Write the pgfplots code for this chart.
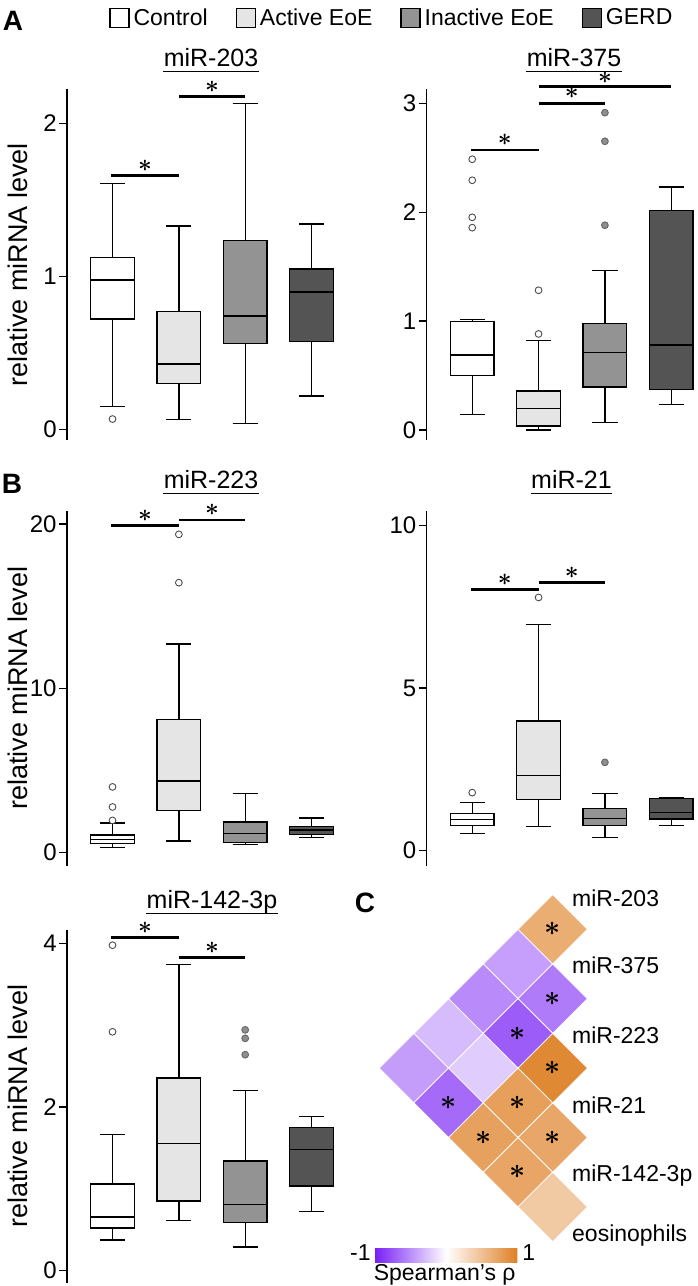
\documentclass[border=0pt]{standalone}
\usepackage{fontspec}
\setmainfont{Liberation Sans}
\usepackage{pgfplots}
\pgfplotsset{compat=1.18}
\usepgfplotslibrary{statistics}

\definecolor{act}{HTML}{E5E5E5}
\definecolor{inact}{HTML}{939393}
\definecolor{gerd}{HTML}{545454}
\definecolor{outgray}{HTML}{8E8E8E}

\newcommand{\sig}{\scalebox{1.2}{\boldmath$\ast$}}
\newcommand{\hsig}{\scalebox{1.4}{\boldmath$\ast$}}
\tikzset{sigstar/.style={pos=0.5, yshift=5pt, inner sep=0pt}}

\pgfplotsset{
  mirbox/.style={
    scale only axis, width=137.2pt,
    xmin=0.314, xmax=4.45,
    axis x line=none, axis y line*=left,
    clip=false,
    axis line style={line width=0.65pt, black},
    tick style={line width=0.65pt, black},
    tick align=outside, major tick length=4pt,
    /pgf/number format/assume math mode=true,
    tick label style={font=\fontsize{12}{12}\selectfont},
    yticklabel style={inner sep=1pt},
    ylabel style={at={([xshift=-24.75pt]axis description cs:0,0.5)}, anchor=center,
      font=\fontsize{13.5}{13.5}\selectfont},
    every axis plot/.append style={line width=0.65pt},
    boxplot/draw direction=y,
    boxplot/box extend=0.66,
    boxplot/whisker extend=0.38,
    boxplot/every median/.style={line width=0.8pt},
  },
  ctrlbox/.style={forget plot, fill=white, draw=black, mark=*, mark size=1.7pt,
    mark options={fill=white, draw=black!70, line width=0.45pt}},
  actbox/.style={forget plot, fill=act, draw=black, mark=*, mark size=1.7pt,
    mark options={fill=white, draw=black!70, line width=0.45pt}},
  inactbox/.style={forget plot, fill=inact, draw=black, mark=*, mark size=1.7pt,
    mark options={fill=outgray, draw=black!60, line width=0.45pt}},
  gerdbox/.style={forget plot, fill=gerd, draw=black, mark=*, mark size=1.7pt,
    mark options={fill=outgray, draw=black!60, line width=0.45pt}},
  sigbar/.style={forget plot, line width=1.4pt, black, mark=none},
}

\newcommand{\ptitle}[3]{%
  \node[anchor=base, inner sep=0, font=\fontsize{12.5}{12.5}\selectfont] (#1) at (#2) {#3};
  \draw[line width=0.65pt] ([yshift=-2.8pt]#1.base west) -- ([yshift=-2.8pt]#1.base east);}

\begin{document}
\begin{tikzpicture}[x=0.5pt, y=-0.5pt]
\useasboundingbox (0,0) rectangle (697,1286);

% ---------- legend (empty axis holding only the legend)
\begin{axis}[at={(54.5pt,-2pt)}, anchor=north west, hide axis, scale only axis,
  width=1pt, height=1pt, xmin=0, xmax=1, ymin=0, ymax=1,
  legend columns=4,
  legend image code/.code={\draw[#1, line width=0.6pt] (0pt,-4.75pt) rectangle (9.5pt,4.75pt);},
  legend style={at={(0,1)}, anchor=north west, draw=none, fill=none,
    inner sep=0pt, font=\fontsize{11.5}{12}\selectfont,
    /tikz/every even column/.append style={column sep=12pt}},
]
\addlegendimage{fill=white, draw=black}\addlegendentry{Control}
\addlegendimage{fill=act, draw=black}\addlegendentry{Active EoE}
\addlegendimage{fill=inact, draw=black}\addlegendentry{Inactive EoE}
\addlegendimage{fill=gerd, draw=black}\addlegendentry{GERD}
\end{axis}

% ---------- A: miR-203
\begin{axis}[mirbox, at={(33.5pt,-220pt)}, anchor=south west, height=175.5pt,
  ymin=-0.07, ymax=2.224, ytick={0,1,2}, ylabel={relative miRNA level}]
\addplot[ctrlbox, boxplot prepared={draw position=1, lower whisker=0.148, lower quartile=0.721,
  median=0.976, upper quartile=1.124, upper whisker=1.608}] coordinates {(0,0.067)};
\addplot[actbox, boxplot prepared={draw position=2, lower whisker=0.065, lower quartile=0.30,
  median=0.427, upper quartile=0.769, upper whisker=1.329}] coordinates {};
\addplot[inactbox, boxplot prepared={draw position=3, lower whisker=0.039, lower quartile=0.562,
  median=0.741, upper quartile=1.235, upper whisker=2.13}] coordinates {};
\addplot[gerdbox, boxplot prepared={draw position=4, lower whisker=0.218, lower quartile=0.573,
  median=0.897, upper quartile=1.048, upper whisker=1.342}] coordinates {};
\addplot[sigbar] coordinates {(0.98,1.658) (2,1.658)} node[sigstar] {\sig};
\addplot[sigbar] coordinates {(2,2.174) (3,2.174)} node[sigstar] {\sig};
\end{axis}

% ---------- A: miR-375
\begin{axis}[mirbox, at={(213.35pt,-220pt)}, anchor=south west, height=175.44pt,
  ymin=-0.092, ymax=3.13, ytick={0,1,2,3}]
\addplot[ctrlbox, boxplot prepared={draw position=1, lower whisker=0.144, lower quartile=0.499,
  median=0.689, upper quartile=0.995, upper whisker=1.016}]
  coordinates {(0,2.486) (0,2.293) (0,1.953) (0,1.858)};
\addplot[actbox, boxplot prepared={draw position=2, lower whisker=0.0, lower quartile=0.037,
  median=0.199, upper quartile=0.358, upper whisker=0.82}]
  coordinates {(0,0.882) (0,1.283)};
\addplot[inactbox, boxplot prepared={draw position=3, lower whisker=0.067, lower quartile=0.395,
  median=0.71, upper quartile=0.98, upper whisker=1.463}]
  coordinates {(0,2.914) (0,2.651) (0,1.88)};
\addplot[gerdbox, boxplot prepared={draw position=4, lower whisker=0.236, lower quartile=0.374,
  median=0.78, upper quartile=2.013, upper whisker=2.231}] coordinates {};
\addplot[sigbar] coordinates {(0.98,2.571) (2,2.571)} node[sigstar] {\sig};
\addplot[sigbar] coordinates {(2,3.0) (3,3.0)} node[sigstar] {\sig};
\addplot[sigbar] coordinates {(2,3.153) (4,3.153)} node[sigstar, yshift=-0.6pt] {\sig};
\end{axis}

% ---------- B: miR-223
\begin{axis}[mirbox, at={(33.5pt,-432.8pt)}, anchor=south west, height=177.45pt,
  ymin=-0.79, ymax=20.81, ytick={0,10,20}, ylabel={relative miRNA level}]
\addplot[ctrlbox, boxplot prepared={draw position=1, lower whisker=0.3, lower quartile=0.55,
  median=0.8, upper quartile=1.08, upper whisker=1.8}]
  coordinates {(0,4.0) (0,2.78) (0,1.96)};
\addplot[actbox, boxplot prepared={draw position=2, lower whisker=0.71, lower quartile=2.56,
  median=4.35, upper quartile=8.11, upper whisker=12.7}]
  coordinates {(0,16.43) (0,19.37)};
\addplot[inactbox, boxplot prepared={draw position=3, lower whisker=0.48, lower quartile=0.6,
  median=1.17, upper quartile=1.87, upper whisker=3.58}] coordinates {};
\addplot[gerdbox, boxplot prepared={draw position=4, lower whisker=0.9, lower quartile=1.11,
  median=1.36, upper quartile=1.59, upper whisker=2.1}] coordinates {};
\addplot[sigbar] coordinates {(0.98,19.9) (2,19.9)} node[sigstar] {\sig};
\addplot[sigbar] coordinates {(2,20.24) (3,20.24)} node[sigstar] {\sig};
\end{axis}

% ---------- B: miR-21
\begin{axis}[mirbox, at={(213.35pt,-433pt)}, anchor=south west, height=177.7pt,
  ymin=-0.476, ymax=10.45, ytick={0,5,10}]
\addplot[ctrlbox, boxplot prepared={draw position=1, lower whisker=0.52, lower quartile=0.76,
  median=0.95, upper quartile=1.14, upper whisker=1.475}] coordinates {(0,1.78)};
\addplot[actbox, boxplot prepared={draw position=2, lower whisker=0.73, lower quartile=1.57,
  median=2.31, upper quartile=3.98, upper whisker=6.95}] coordinates {(0,7.78)};
\addplot[inactbox, boxplot prepared={draw position=3, lower whisker=0.39, lower quartile=0.78,
  median=0.98, upper quartile=1.29, upper whisker=1.76}] coordinates {(0,2.71)};
\addplot[gerdbox, boxplot prepared={draw position=4, lower whisker=0.77, lower quartile=0.97,
  median=1.17, upper quartile=1.60, upper whisker=1.63}] coordinates {};
\addplot[sigbar] coordinates {(0.98,8.02) (2,8.02)} node[sigstar] {\sig};
\addplot[sigbar] coordinates {(2,8.23) (3,8.23)} node[sigstar] {\sig};
\end{axis}

% ---------- miR-142-3p
\begin{axis}[mirbox, at={(33.5pt,-641.5pt)}, anchor=south west, height=176.7pt,
  ymin=-0.155, ymax=4.171, ytick={0,2,4}, ylabel={relative miRNA level}]
\addplot[ctrlbox, boxplot prepared={draw position=1, lower whisker=0.37, lower quartile=0.517,
  median=0.651, upper quartile=1.057, upper whisker=1.663}]
  coordinates {(0,3.98) (0,2.92)};
\addplot[actbox, boxplot prepared={draw position=2, lower whisker=0.606, lower quartile=0.85,
  median=1.554, upper quartile=2.354, upper whisker=3.74}] coordinates {};
\addplot[inactbox, boxplot prepared={draw position=3, lower whisker=0.285, lower quartile=0.582,
  median=0.805, upper quartile=1.338, upper whisker=2.204}]
  coordinates {(0,2.944) (0,2.84) (0,2.64)};
\addplot[gerdbox, boxplot prepared={draw position=4, lower whisker=0.724, lower quartile=1.033,
  median=1.48, upper quartile=1.749, upper whisker=1.887}] coordinates {};
\addplot[sigbar] coordinates {(0.98,4.07) (2,4.07)} node[sigstar] {\sig};
\addplot[sigbar] coordinates {(2,3.83) (3,3.83)} node[sigstar] {\sig};
\end{axis}

% ---------- C: Spearman correlation heatmap
\begin{axis}[at={(198.275pt,-612.125pt)}, anchor=south west,
  x=17.35pt, y=17.35pt, xmin=-4.5, xmax=0.5, ymin=-8.5, ymax=0.5,
  axis lines=none, xtick=\empty, ytick=\empty, clip=false,
  colormap={spear}{rgb255(0cm)=(120,32,245); rgb255(1cm)=(255,255,255); rgb255(2cm)=(222,128,38)},
  point meta min=-1, point meta max=1,
  colorbar horizontal,
  colorbar shift/.style={xshift=-10.78pt, yshift=-1.4pt},
  colorbar style={scale only axis, width=71.15pt, height=7pt,
    xtick=\empty, axis line style={draw=none}},
]
\addplot[scatter, only marks, mark=square*, mark size=12.27pt,
  scatter/use mapped color={draw=white, fill=mapped color},
  mark options={rotate=45, line width=0.35pt}, point meta=explicit]
  table[x=X, y=Y, meta=r] {
X  Y   r
0  0   0.65
-1 -1  -0.43
-2 -2  -0.52
0  -2  -0.59
-3 -3  -0.30
-1 -3  -0.73
-4 -4  -0.44
-2 -4  -0.23
0  -4  0.93
-3 -5  -0.67
-1 -5  0.75
-2 -6  0.74
0  -6  0.69
-1 -7  0.71
0  -8  0.42
};
\addplot[draw=none, mark=none, nodes near coords={\hsig}, nodes near coords align={center},
  nodes near coords style={anchor=center, inner sep=0pt}]
  table[x=X, y=Y] {
X  Y
0  0
0  -2
-1 -3
0  -4
-3 -5
-1 -5
-2 -6
0  -6
-1 -7
};
\begin{scope}[every node/.style={anchor=west, inner sep=0pt, font=\fontsize{11.5}{12}\selectfont}]
\node at (axis cs:0.55,0.9) {miR-203};
\node at (axis cs:0.55,-1.03) {miR-375};
\node at (axis cs:0.55,-3.05) {miR-223};
\node at (axis cs:0.55,-5.07) {miR-21};
\node at (axis cs:0.55,-7.09) {miR-142-3p};
\node at (axis cs:0.55,-8.82) {eosinophils};
\end{scope}
\end{axis}

% colorbar labels
\node[anchor=east, inner sep=0, font=\fontsize{11.5}{12}\selectfont] at (371,1253) {-1};
\node[anchor=west, inner sep=0, font=\fontsize{11.5}{12}\selectfont] at (522,1253) {1};
\node[anchor=north, inner sep=0, font=\fontsize{11.5}{12}\selectfont] at (444.7,1264.5) {Spearman's ρ};

% titles
\ptitle{t1}{211,66}{miR-203}
\ptitle{t2}{574,66}{miR-375}
\ptitle{t3}{211,488}{miR-223}
\ptitle{t4}{571.5,488}{miR-21}
\ptitle{t5}{212,908}{miR-142-3p}

% panel letters
\node[font=\fontsize{14}{14}\selectfont\bfseries] at (13,21) {A};
\node[font=\fontsize{14}{14}\selectfont\bfseries] at (12,484) {B};
\node[font=\fontsize{14}{14}\selectfont\bfseries] at (365,903) {C};
\end{tikzpicture}
\end{document}
